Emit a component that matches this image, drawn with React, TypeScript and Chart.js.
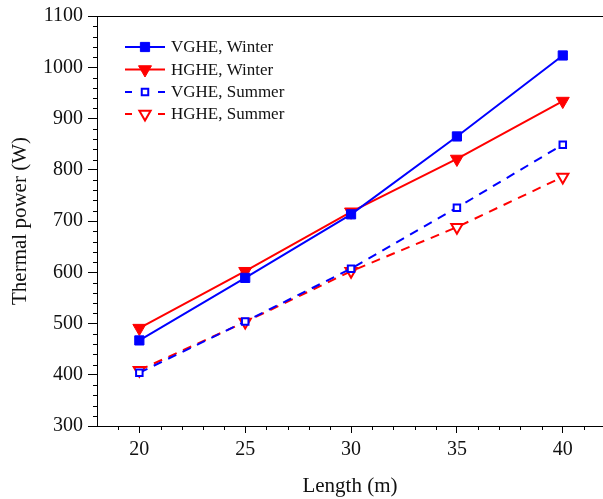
import React, { useEffect, useRef } from "react";
import { Chart, registerables } from "chart.js";

Chart.register(...registerables);

const lengths = [20, 25, 30, 35, 40];
const vgheWinter = [467, 589, 713, 865, 1023];
const hgheWinter = [491, 602, 718, 821, 934];
const vgheSummer = [404, 504, 607, 726, 849];
const hgheSummer = [409, 503, 602, 688, 786];
const xTicks = [20, 25, 30, 35, 40];
const yTicks = [300, 400, 500, 600, 700, 800, 900, 1000, 1100];

const seriesNames = ["VGHE, Winter", "HGHE, Winter", "VGHE, Summer", "HGHE, Summer"];
const BLUE = "#0000FF";
const RED = "#FF0000";
const FONT = "'Liberation Serif', 'Times New Roman', serif";

Chart.defaults.font.family = FONT;

type Mk = { shape: "rect" | "tri"; filled: boolean; r: number; color: string; dash: number[] };
const markers: Mk[] = [
  { shape: "rect", filled: true, r: 6.5, color: BLUE, dash: [] },
  { shape: "tri", filled: true, r: 7.5, color: RED, dash: [] },
  { shape: "rect", filled: false, r: 4.6, color: BLUE, dash: [9, 7] },
  { shape: "tri", filled: false, r: 6.5, color: RED, dash: [9, 7] },
];

function drawMarker(ctx: CanvasRenderingContext2D, m: Mk, x: number, y: number) {
  ctx.save();
  ctx.setLineDash([]);
  ctx.beginPath();
  if (m.shape === "rect") {
    const s = m.r * Math.SQRT1_2;
    ctx.rect(x - s, y - s, 2 * s, 2 * s);
  } else {
    const r = m.r;
    ctx.moveTo(x, y + r);
    ctx.lineTo(x - r * Math.sin(Math.PI / 3), y - r * 0.5);
    ctx.lineTo(x + r * Math.sin(Math.PI / 3), y - r * 0.5);
    ctx.closePath();
  }
  ctx.fillStyle = m.filled ? m.color : "#FFFFFF";
  ctx.fill();
  ctx.strokeStyle = m.color;
  ctx.lineWidth = m.filled ? 1 : 2;
  ctx.stroke();
  ctx.restore();
}

const decorPlugin = {
  id: "decor",
  afterDraw(chart: any) {
    const ctx: CanvasRenderingContext2D = chart.ctx;
    const { left, right, top, bottom } = chart.chartArea;
    const xs = chart.scales.x;
    const ys = chart.scales.y;
    ctx.save();
    ctx.strokeStyle = "#000000";
    ctx.lineWidth = 1;
    ctx.beginPath();
    ctx.moveTo(left, top + 0.5);
    ctx.lineTo(right, top + 0.5);
    ctx.stroke();
    ctx.beginPath();
    for (let v = 300; v <= 1100; v += 20) {
      if (v % 100 === 0) continue;
      const py = Math.round(ys.getPixelForValue(v)) + 0.5;
      ctx.moveTo(left - 4, py);
      ctx.lineTo(left, py);
    }
    for (let v = 19; v <= 41; v += 1) {
      if (v % 5 === 0) continue;
      const px = Math.round(xs.getPixelForValue(v)) + 0.5;
      ctx.moveTo(px, bottom);
      ctx.lineTo(px, bottom + 4);
    }
    ctx.stroke();

    const rowY = [47, 69.5, 92, 114];
    ctx.font = "17px " + FONT;
    ctx.textBaseline = "middle";
    ctx.textAlign = "left";
    seriesNames.forEach((name, i) => {
      const m = markers[i];
      const y = rowY[i];
      ctx.save();
      ctx.strokeStyle = m.color;
      ctx.lineWidth = 2;
      ctx.beginPath();
      if (m.dash.length) {
        ctx.moveTo(125, y);
        ctx.lineTo(132, y);
        ctx.moveTo(158, y);
        ctx.lineTo(165, y);
      } else {
        ctx.moveTo(125, y);
        ctx.lineTo(165, y);
      }
      ctx.stroke();
      ctx.restore();
      drawMarker(ctx, m, 145, y);
      ctx.fillStyle = "#111111";
      ctx.fillText(name, 171, y + 1);
    });
    ctx.restore();
  },
};

function ds(label: string, data: number[], m: Mk) {
  return {
    label,
    data: data.map((v, i) => ({ x: lengths[i], y: v })),
    borderColor: m.color,
    backgroundColor: m.filled ? m.color : "#FFFFFF",
    pointBackgroundColor: m.filled ? m.color : "#FFFFFF",
    pointBorderColor: m.color,
    pointBorderWidth: m.filled ? 1 : 2,
    pointStyle: m.shape === "rect" ? "rect" : "triangle",
    rotation: m.shape === "tri" ? 180 : 0,
    pointRadius: m.r,
    borderWidth: 2,
    borderDash: m.dash,
    tension: 0,
    fill: false,
  };
}

export default function App() {
  const ref = useRef<HTMLCanvasElement | null>(null);
  useEffect(() => {
    if (!ref.current) return;
    const chart = new Chart(ref.current, {
      type: "line",
      data: {
        datasets: [
          ds(seriesNames[0], vgheWinter, markers[0]),
          ds(seriesNames[1], hgheWinter, markers[1]),
          ds(seriesNames[2], vgheSummer, markers[2]),
          ds(seriesNames[3], hgheSummer, markers[3]),
        ] as any,
      },
      options: {
        animation: false,
        responsive: false,
        devicePixelRatio: 1,
        layout: { autoPadding: false, padding: { top: 16, right: 0, left: 0, bottom: 0 } },
        plugins: { legend: { display: false }, tooltip: { enabled: false } },
        scales: {
          x: {
            type: "linear",
            min: 18,
            max: 41.9,
            afterBuildTicks: (s: any) => {
              s.ticks = xTicks.map((v) => ({ value: v }));
            },
            afterFit: (s: any) => {
              s.height = 73;
              s.paddingLeft = 0;
              s.paddingRight = 0;
            },
            grid: { drawOnChartArea: false, drawTicks: true, tickLength: 7, tickColor: "#000", tickWidth: 1 },
            border: { display: true, color: "#000", width: 1 },
            ticks: { color: "#111", font: { family: FONT, size: 20 }, padding: 5, maxRotation: 0, callback: (v: any) => String(v) },
            title: { display: true, text: "Length (m)", color: "#111", font: { family: FONT, size: 21 }, padding: { top: 4, bottom: 0 } },
          },
          y: {
            type: "linear",
            min: 300,
            max: 1100,
            afterBuildTicks: (s: any) => {
              s.ticks = yTicks.map((v) => ({ value: v }));
            },
            afterFit: (s: any) => {
              s.width = 97;
              s.paddingTop = 0;
              s.paddingBottom = 0;
            },
            grid: { drawOnChartArea: false, drawTicks: true, tickLength: 9, tickColor: "#000", tickWidth: 1 },
            border: { display: true, color: "#000", width: 1 },
            ticks: { color: "#111", font: { family: FONT, size: 20 }, padding: 5, callback: (v: any) => String(v) },
            title: { display: true, text: "Thermal power (W)", color: "#111", font: { family: FONT, size: 21 }, padding: { top: 8, bottom: 6 } },
          },
        },
      },
      plugins: [decorPlugin],
    } as any);
    return () => chart.destroy();
  }, []);
  return (
    <div style={{ position: "absolute", left: 0, top: 0, width: 603, height: 499, background: "#fff" }}>
      <canvas ref={ref} width={603} height={499} style={{ display: "block" }} />
    </div>
  );
}
